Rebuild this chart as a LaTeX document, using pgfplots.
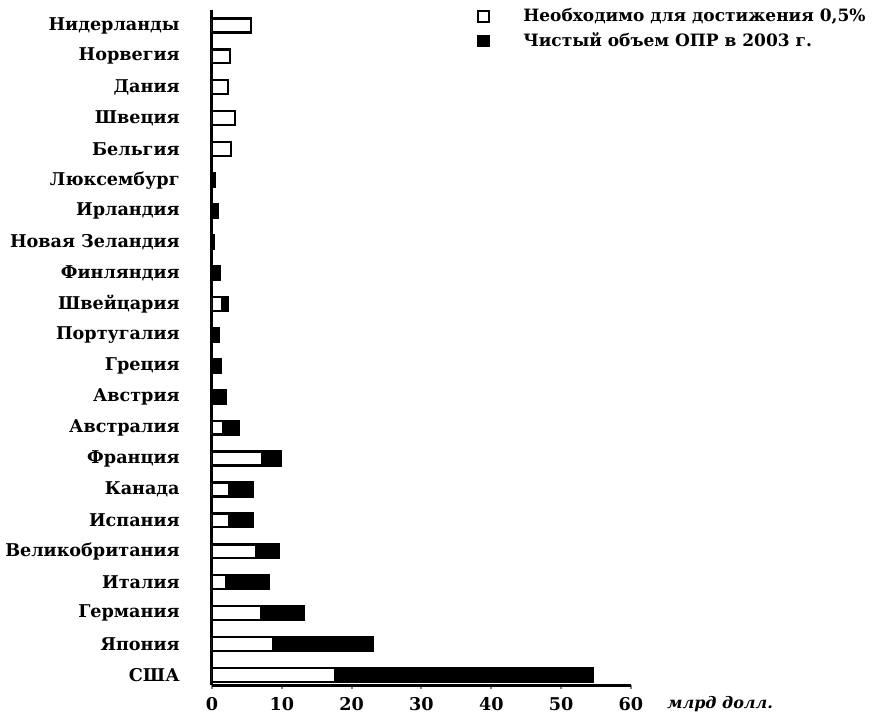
\documentclass[border=0pt]{standalone}
\usepackage{fontspec}
\setmainfont{DejaVu Serif}
\usepackage{pgfplots}
\pgfplotsset{compat=1.18}
\begin{document}
\begin{tikzpicture}
\useasboundingbox (-106pt,-16pt) rectangle (338pt,342.5pt);
\begin{axis}[
  at={(0,0)}, anchor=south west,
  scale only axis, width=209.5pt, height=337.5pt,
  xmin=0, xmax=60, ymin=-0.32, ymax=21.5,
  xbar stacked, bar width=0.45,
  axis x line=bottom, axis y line=left,
  axis line style={-, line width=1.5pt},
  xtick={0,10,...,60},
  ytick={0,...,21},
  yticklabels={США,Япония,Германия,Италия,Великобритания,Испания,Канада,Франция,Австралия,Австрия,Греция,Португалия,Швейцария,Финляндия,Новая Зеландия,Ирландия,Люксембург,Бельгия,Швеция,Дания,Норвегия,Нидерланды},
  ytick style={draw=none},
  minor ytick={-0.5,0.5,...,20.5},
  minor tick length=2pt,
  tick align=outside,
  xtick style={line width=1pt},
  major tick length=2pt,
  /pgf/number format/assume math mode=true,
  tick label style={font=\bfseries\fontsize{8.8}{10}\selectfont},
  yticklabel style={inner sep=0pt, xshift=-14pt},
  xticklabel style={inner sep=0pt, yshift=-4pt},
  xlabel={млрд долл.},
  xlabel style={at={(rel axis cs:1,0)}, anchor=base west, xshift=18pt, yshift=-11.5pt, font=\bfseries\itshape\fontsize{8}{10}\selectfont, inner sep=0pt},
  legend style={at={(rel axis cs:0.632,1.003)}, anchor=north west, draw=none, fill=none,
    font=\bfseries\fontsize{8.5}{10}\selectfont, inner sep=0pt, row sep=4pt,
    nodes={inner sep=0pt}},
  legend cell align=left,
]
\addplot[fill=white, draw=black, line width=1.1pt,
  legend image code/.code={\draw[fill=white,draw=black,line width=1pt] (0pt,-2.6pt) rectangle (5.6pt,2.6pt); \path (22pt,0pt);}]
  coordinates {
  (17.6,0) (8.8,1) (7.1,2) (2.0,3) (6.3,4) (2.5,5) (2.5,6) (7.2,7) (1.6,8) (0,9) (0,10)
  (0,11) (1.4,12) (0,13) (0,14) (0,15) (0,16) (2.7,17) (3.3,18) (2.25,19) (2.6,20) (5.6,21)};
\addlegendentry{Необходимо для достижения 0,5\%}
\addplot[fill=black, draw=black, line width=1.1pt,
  legend image code/.code={\draw[fill=black,draw=black,line width=1pt] (0pt,-2.6pt) rectangle (5.6pt,2.6pt); \path (22pt,0pt);}]
  coordinates {
  (36.9,0) (14.2,1) (6.0,2) (6.2,3) (3.3,4) (3.4,5) (3.3,6) (2.7,7) (2.3,8) (2.0,9) (1.3,10)
  (1.05,11) (0.9,12) (1.15,13) (0.3,14) (0.8,15) (0.35,16) (0,17) (0,18) (0,19) (0,20) (0,21)};
\addlegendentry{Чистый объем ОПР в 2003 г.}
\end{axis}
\end{tikzpicture}
\end{document}
